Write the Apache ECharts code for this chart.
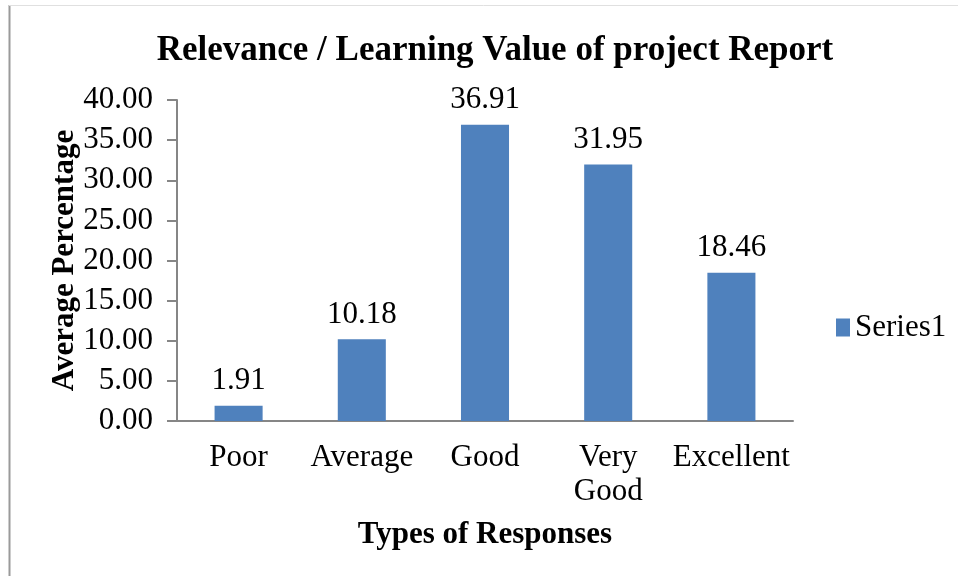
<!DOCTYPE html>
<html>
<head>
<meta charset="utf-8">
<script src="https://cdn.jsdelivr.net/npm/echarts@6/dist/echarts.min.js"></script>
<style>
  html, body { margin: 0; padding: 0; background: #fff; }
  #chart { width: 958px; height: 576px; }
</style>
</head>
<body>
<div id="chart"></div>
<script>
const categories = ['Poor', 'Average', 'Good', 'Very\nGood', 'Excellent']
const values = [1.91, 10.18, 36.91, 31.95, 18.46]
const seriesName = 'Series1'

const serif = '"Liberation Serif", "Times New Roman", serif'
const axisGray = '#868686'

const chart = echarts.init(document.getElementById('chart'))

chart.setOption({
  backgroundColor: '#fff',
  animation: false,
  title: {
    text: 'Relevance / Learning Value of project Report',
    left: 490,
    textAlign: 'center',
    top: 28,
    textStyle: { fontFamily: serif, fontSize: 35, fontWeight: 'bold', color: '#000' },
  },
  legend: {
    data: [seriesName],
    left: 836,
    top: 312,
    padding: 0,
    itemWidth: 14,
    itemHeight: 18,
    itemGap: 5,
    icon: 'rect',
    textStyle: { fontFamily: serif, fontSize: 31, color: '#000' },
  },
  grid: { left: 177, top: 100, right: 165, bottom: 155, containLabel: false },
  xAxis: {
    type: 'category',
    data: categories,
    name: 'Types of Responses',
    nameLocation: 'middle',
    nameGap: 98,
    nameMoveOverlap: false,
    nameTextStyle: { fontFamily: serif, fontSize: 31, fontWeight: 'bold', color: '#000' },
    axisLine: { lineStyle: { color: axisGray, width: 2 } },
    axisTick: { show: false },
    axisLabel: {
      fontFamily: serif, fontSize: 31, color: '#000', margin: 20,
      lineHeight: 34, interval: 0,
    },
  },
  yAxis: {
    type: 'value',
    min: 0,
    max: 40,
    interval: 5,
    name: 'Average Percentage',
    nameLocation: 'middle',
    nameGap: 97,
    nameMoveOverlap: false,
    nameTextStyle: { fontFamily: serif, fontSize: 31, fontWeight: 'bold', color: '#000' },
    axisLine: { show: true, lineStyle: { color: axisGray, width: 2 } },
    axisTick: { show: true, length: 10, lineStyle: { color: axisGray, width: 2 } },
    splitLine: { show: false },
    axisLabel: {
      fontFamily: serif, fontSize: 31, color: '#000', margin: 24,
      formatter: (v) => v.toFixed(2),
    },
  },
  series: [
    {
      name: seriesName,
      type: 'bar',
      data: values,
      barWidth: '39%',
      itemStyle: { color: '#4F81BD' },
      label: {
        show: true,
        position: 'top',
        distance: 9,
        fontFamily: serif,
        fontSize: 31,
        color: '#000',
        formatter: (p) => p.value.toFixed(2),
      },
    },
  ],
  graphic: [
    { type: 'line', shape: { x1: 9.5, y1: 5, x2: 9.5, y2: 576 }, style: { stroke: '#9a9a9a', lineWidth: 2 } },
    { type: 'line', shape: { x1: 9, y1: 5.5, x2: 958, y2: 5.5 }, style: { stroke: '#e0e0e0', lineWidth: 1 } },
  ],
})
</script>
</body>
</html>
